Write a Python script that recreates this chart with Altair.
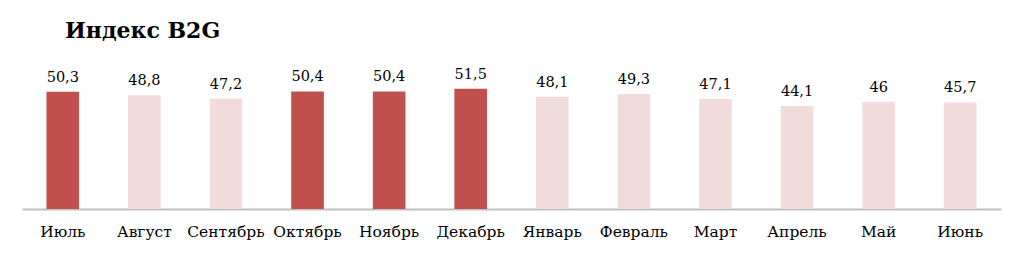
import altair as alt
import pandas as pd

months = ["Июль", "Август", "Сентябрь", "Октябрь", "Ноябрь", "Декабрь",
          "Январь", "Февраль", "Март", "Апрель", "Май", "Июнь"]
values = [50.3, 48.8, 47.2, 50.4, 50.4, 51.5, 48.1, 49.3, 47.1, 44.1, 46.0, 45.7]

df = pd.DataFrame({
    "month": months,
    "value": values,
    "label": [("%g" % v).replace(".", ",") for v in values],
})

FONT = "DejaVu Serif"
DARK = "#C0504D"
LIGHT = "#F2DCDB"

x = alt.X("month:N", sort=months, title=None,
          scale=alt.Scale(paddingInner=0.6, paddingOuter=0.3),
          axis=alt.Axis(labelAngle=0, ticks=False, labelPadding=15,
                        labelFont=FONT, labelFontSize=15.5, labelColor="#000000",
                        domainColor="#BFBFBF", domainWidth=2, grid=False))
y = alt.Y("value:Q", title=None, scale=alt.Scale(domain=[0, 60], nice=False),
          axis=None)

base = alt.Chart(df)

bars = base.mark_bar().encode(
    x=x, y=y,
    color=alt.condition(alt.datum.value >= 50, alt.value(DARK), alt.value(LIGHT)),
)

labels = base.mark_text(dy=-10, baseline="alphabetic", font=FONT, fontSize=14.5,
                        color="#000000").encode(x=x, y=y, text="label:N")

title = alt.Chart(pd.DataFrame({"t": ["Индекс B2G"]})).mark_text(
    align="left", baseline="alphabetic", font=FONT, fontSize=22,
    fontWeight="bold", color="#000000"
).encode(x=alt.value(43), y=alt.value(-31), text="t:N")

chart = alt.layer(bars, labels, title).properties(
    width=979, height=140,
    autosize=alt.AutoSizeParams(type="none"),
    padding={"left": 22, "top": 69, "right": 23, "bottom": 47},
).configure(background="#FFFFFF").configure_view(strokeWidth=0, stroke=None)

chart.save("out.html", embed_options={"renderer": "svg", "actions": False})
